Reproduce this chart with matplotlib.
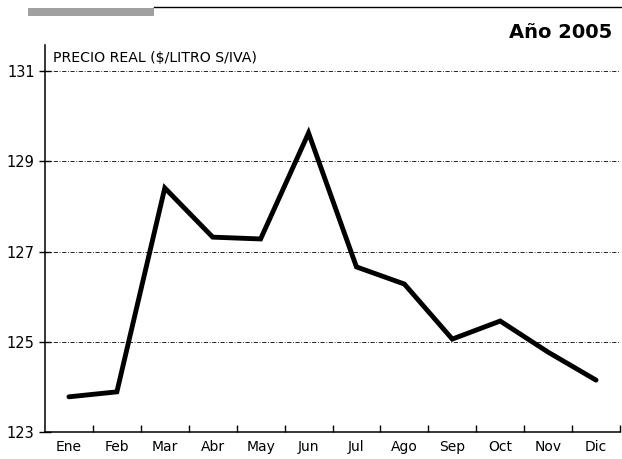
import numpy as np
import matplotlib.pyplot as plt
from matplotlib.lines import Line2D
from matplotlib.patches import Rectangle

months = ['Ene', 'Feb', 'Mar', 'Abr', 'May', 'Jun', 'Jul', 'Ago', 'Sep', 'Oct', 'Nov', 'Dic']
precio = [123.78, 123.89, 128.41, 127.32, 127.28, 129.63, 126.66, 126.28, 125.06, 125.46, 124.77, 124.15]
yticks = [123, 125, 127, 129, 131]

plt.rcParams['font.family'] = ['Liberation Sans Narrow', 'DejaVu Sans']

fig = plt.figure(figsize=(6.22, 4.59), dpi=100)
ax = fig.add_axes([45 / 622, 27 / 459, 575 / 622, 387 / 459])

x = np.arange(len(months)) + 0.5
ax.plot(x, precio, color='black', lw=3.5, solid_capstyle='round', solid_joinstyle='miter', zorder=3)

ax.set_xlim(0, 12)
ax.set_ylim(123, 131.58)
ax.set_yticks(yticks)
ax.set_yticklabels([str(v) for v in yticks], fontsize=10.5)
ax.set_xticks(x)
ax.set_xticklabels(months, fontsize=10)
ax.set_xticks(np.arange(1, 13), minor=True)
ax.tick_params(axis='x', which='major', length=0, pad=6)
ax.tick_params(axis='x', which='minor', direction='in', length=5, width=1)
ax.tick_params(axis='y', direction='inout', length=9, width=1, pad=3)

for v in yticks[1:]:
    ax.axhline(v, color='black', lw=0.6, ls='-.', dashes=(5, 2, 1, 2), zorder=1)

for s in ['top', 'right']:
    ax.spines[s].set_visible(False)
ax.spines['left'].set_linewidth(1.1)
ax.spines['bottom'].set_linewidth(1.1)

ax.text(0.014, 0.985, 'PRECIO REAL ($/LITRO S/IVA)', transform=ax.transAxes,
        fontsize=10.2, va='top', ha='left')

# header decorations
fig.add_artist(Rectangle((28 / 622, 1 - 16 / 459), 126 / 622, 8 / 459,
                         transform=fig.transFigure, color='#a0a0a0', lw=0))
fig.add_artist(Line2D([154 / 622, 1], [1 - 7 / 459, 1 - 7 / 459],
                      transform=fig.transFigure, color='black', lw=1))
fig.text(612 / 622, 1 - 32 / 459, 'Año 2005', ha='right', va='center',
         fontsize=14, fontweight='bold')

fig.savefig('out.png', dpi=100)
